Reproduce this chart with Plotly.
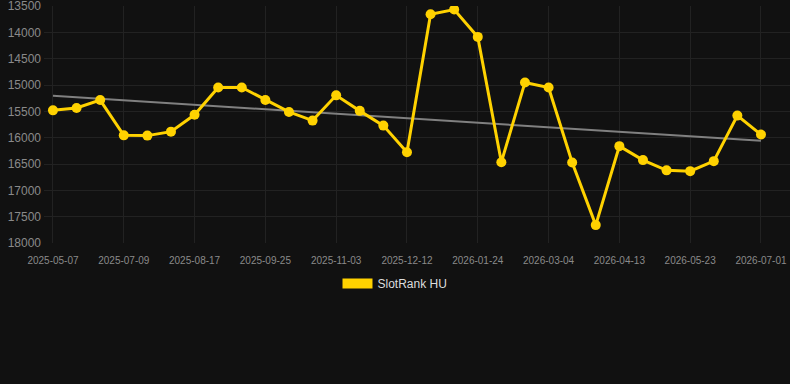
import numpy as np
import plotly.graph_objects as go

tick_labels = ["2025-05-07", "2025-07-09", "2025-08-17", "2025-09-25", "2025-11-03",
               "2025-12-12", "2026-01-24", "2026-03-04", "2026-04-13", "2026-05-23", "2026-07-01"]
ranks = [15480, 15435, 15285, 15955, 15960, 15885, 15565, 15045, 15045, 15285,
         15510, 15675, 15195, 15490, 15770, 16275, 13655, 13565, 14085, 16465,
         14950, 15045, 16470, 17660, 16160, 16425, 16620, 16635, 16445, 15580, 15940]
series_name = "SlotRank HU"
y_ticks = list(range(13500, 18001, 500))

idx = np.arange(len(ranks))
slope, intercept = np.polyfit(idx, ranks, 1)
trend = slope * idx + intercept

gold = "#FFD200"
fig = go.Figure()
fig.add_trace(go.Scatter(x=idx, y=trend, mode="lines", line=dict(color="#808080", width=2),
                         showlegend=False, hoverinfo="skip"))
fig.add_trace(go.Scatter(x=idx, y=ranks, mode="lines+markers", name=series_name,
                         line=dict(color=gold, width=3), marker=dict(color=gold, size=10),
                         showlegend=False))
fig.add_trace(go.Scatter(x=[None], y=[None], mode="lines", name=series_name,
                         line=dict(color=gold, width=11), showlegend=True))

tickvals = list(idx[::3])
fig.update_layout(
    width=790, height=384,
    margin=dict(l=44, r=0, t=6, b=141),
    paper_bgcolor="#111111", plot_bgcolor="#111111",
    font=dict(family="Liberation Sans, Arial, sans-serif", color="#999999"),
    xaxis=dict(range=[-0.38, 31.23], tickvals=tickvals, ticktext=tick_labels,
               tickfont=dict(size=10, color="#8a8a8a"), gridcolor="#222222",
               showline=False, zeroline=False, ticks="", ticklabelstandoff=10),
    yaxis=dict(range=[18000, 13498], tickvals=y_ticks, ticktext=[str(v) for v in y_ticks],
               tickfont=dict(size=12, color="#8a8a8a"), gridcolor="#222222",
               zeroline=False, ticks="", ticklabelstandoff=2, ticklabeloverflow="allow"),
    legend=dict(orientation="h", x=0.4705, xanchor="center", y=-0.11, yanchor="top",
                font=dict(size=12, color="#dddddd")),
)
fig.write_html("out.html")
